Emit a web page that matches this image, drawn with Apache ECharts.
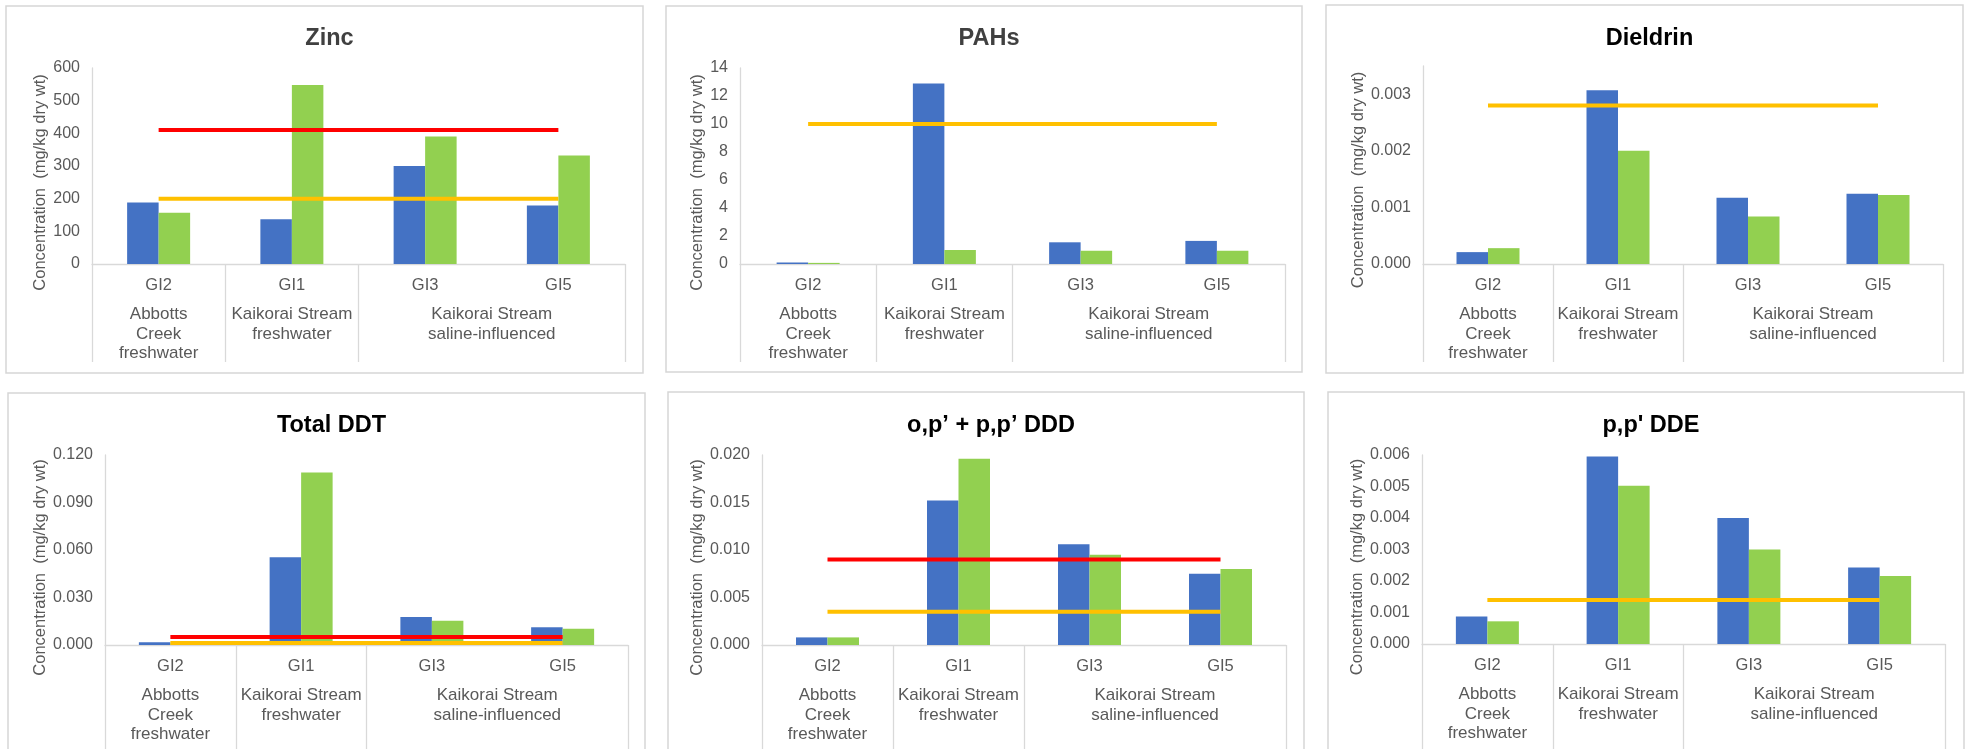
<!DOCTYPE html>
<html>
<head>
<meta charset="utf-8">
<script src="https://cdn.jsdelivr.net/npm/echarts@6/dist/echarts.min.js"></script>
<style>
  html, body { margin: 0; padding: 0; background: #ffffff; }
  #chart { width: 1966px; height: 749px; }
</style>
</head>
<body>
<div id="chart"></div>
<script>
// Sites and their stream groupings
const categories = ['GI2', 'GI1', 'GI3', 'GI5'];
const groupNames = ['Abbotts\nCreek\nfreshwater', 'Kaikorai Stream\nfreshwater', 'Kaikorai Stream\nsaline-influenced'];
const groupCentres = [0.5, 1.5, 3];
const groupEdges = [0, 1, 2, 4];

// Sediment concentrations (mg/kg dry wt), two sampling rounds per site
const zincA = [188, 137, 300, 179];
const zincB = [157, 548, 390, 332];
const zincHigh = [410, 410, 410, 410];
const zincLow = [200, 200, 200, 200];

const pahA = [0.10, 12.9, 1.55, 1.65];
const pahB = [0.08, 1.00, 0.95, 0.95];
const pahLow = [10, 10, 10, 10];

const dieldrinA = [0.00021, 0.00307, 0.00117, 0.00124];
const dieldrinB = [0.00028, 0.00200, 0.00084, 0.00122];
const dieldrinLow = [0.0028, 0.0028, 0.0028, 0.0028];

const ddtA = [0.0017, 0.0554, 0.0177, 0.0112];
const ddtB = [0.0010, 0.1090, 0.0153, 0.0103];
const ddtHigh = [0.005, 0.005, 0.005, 0.005];
const ddtLow = [0.0012, 0.0012, 0.0012, 0.0012];

const dddA = [0.0008, 0.0152, 0.0106, 0.0075];
const dddB = [0.0008, 0.0196, 0.0095, 0.0080];
const dddHigh = [0.009, 0.009, 0.009, 0.009];
const dddLow = [0.0035, 0.0035, 0.0035, 0.0035];

const ddeA = [0.00087, 0.00595, 0.00400, 0.00243];
const ddeB = [0.00072, 0.00502, 0.00300, 0.00216];
const ddeLow = [0.0014, 0.0014, 0.0014, 0.0014];

// Axis scales
const yMax = [600, 14, 0.0035, 0.12, 0.02, 0.006];
const yStep = [100, 2, 0.001, 0.03, 0.005, 0.001];
const yDecimals = [0, 0, 3, 3, 3, 3];

const titles = ['Zinc', 'PAHs', 'Dieldrin', 'Total DDT', 'o,p\u2019 + p,p\u2019 DDD', "p,p' DDE"];

const BLUE = '#4472C4', GREEN = '#92D050', RED = '#FF0000', ORANGE = '#FFC000';
const TEXT = '#595959', RULE = '#D9D9D9';
const FONT = '"Liberation Sans", Arial, sans-serif';

const panelData = [
  { a: zincA, b: zincB, guides: [[zincLow, ORANGE], [zincHigh, RED]], titleColor: '#404040' },
  { a: pahA, b: pahB, guides: [[pahLow, ORANGE]], titleColor: '#404040' },
  { a: dieldrinA, b: dieldrinB, guides: [[dieldrinLow, ORANGE]], titleColor: '#000000' },
  { a: ddtA, b: ddtB, guides: [[ddtLow, ORANGE], [ddtHigh, RED]], titleColor: '#000000' },
  { a: dddA, b: dddB, guides: [[dddLow, ORANGE], [dddHigh, RED]], titleColor: '#000000' },
  { a: ddeA, b: ddeB, guides: [[ddeLow, ORANGE]], titleColor: '#000000' }
];

// Page layout: panel frames, plot areas and title placement
const layouts = [
  { box: [6, 6, 637, 367],    grid: { left: 92,   top: 68,  width: 533, height: 196 }, nameGap: 41, shift: 33, titleX: 324.5, titleY: 21,  depth: 98 },
  { box: [666, 6, 636, 366],  grid: { left: 740,  top: 68,  width: 545, height: 196 }, nameGap: 33, shift: 33, titleX: 984,   titleY: 21,  depth: 98 },
  { box: [1326, 5, 637, 368], grid: { left: 1423, top: 66,  width: 520, height: 198 }, nameGap: 55, shift: 30, titleX: 1644.5, titleY: 21, depth: 98 },
  { box: [8, 393, 637, 380],  grid: { left: 105,  top: 455, width: 523, height: 190 }, nameGap: 53, shift: 35, titleX: 326.5, titleY: 408, depth: 120 },
  { box: [668, 392, 636, 380],grid: { left: 762,  top: 455, width: 524, height: 190 }, nameGap: 53, shift: 35, titleX: 986,   titleY: 408, depth: 120 },
  { box: [1328, 392, 636, 380],grid:{ left: 1422, top: 455, width: 523, height: 189 }, nameGap: 53, shift: 35, titleX: 1646,  titleY: 408, depth: 120 }
];

const option = {
  backgroundColor: '#ffffff',
  animation: false,
  title: [], grid: [], xAxis: [], yAxis: [], series: [],
  graphic: []
};

layouts.forEach(function (L, i) {
  const P = panelData[i];
  option.graphic.push({
    type: 'rect', silent: true, z: -10,
    shape: { x: L.box[0], y: L.box[1], width: L.box[2], height: L.box[3] },
    style: { fill: 'none', stroke: '#D6D6D6', lineWidth: 1.5 }
  });
  option.title.push({
    text: titles[i], left: L.titleX, top: L.titleY, textAlign: 'center',
    textStyle: { fontFamily: FONT, fontWeight: 'bold', fontSize: 23.5, lineHeight: 26, color: P.titleColor }
  });
  option.grid.push(Object.assign({ containLabel: false }, L.grid));

  // site labels along the baseline
  option.xAxis.push({
    type: 'category', gridIndex: i, data: categories, position: 'bottom',
    axisLine: { show: true, lineStyle: { color: RULE, width: 1.3 } },
    axisTick: { show: false },
    axisLabel: { color: TEXT, fontFamily: FONT, fontSize: 16.5, lineHeight: 18, margin: 12 },
    splitLine: { show: false }
  });
  // stream grouping row beneath the site labels
  option.xAxis.push({
    type: 'value', gridIndex: i, min: 0, max: 4, position: 'bottom',
    axisLine: { show: false },
    axisTick: { show: true, customValues: groupEdges, length: L.depth, lineStyle: { color: RULE, width: 1.3 } },
    axisLabel: {
      show: true, customValues: groupCentres, margin: 41,
      color: TEXT, fontFamily: FONT, fontSize: 17, lineHeight: 19.5, align: 'center',
      formatter: function (v) { return groupNames[groupCentres.indexOf(v)] || ''; }
    },
    splitLine: { show: false }
  });

  const step = yStep[i], dec = yDecimals[i];
  option.yAxis.push({
    type: 'value', gridIndex: i, min: 0, max: yMax[i], interval: step,
    name: 'Concentration  (mg/kg dry wt)', nameLocation: 'middle', nameGap: L.nameGap,
    nameTextStyle: { color: TEXT, fontFamily: FONT, fontSize: 16.5, padding: [0, L.shift, 0, 0] },
    axisLine: { show: true, lineStyle: { color: RULE, width: 1.3 } },
    axisTick: { show: false },
    splitLine: { show: false },
    axisLabel: {
      color: TEXT, fontFamily: FONT, fontSize: 16, margin: 12,
      formatter: function (v) {
        const k = v / step;
        return Math.abs(k - Math.round(k)) < 1e-6 ? v.toFixed(dec) : '';
      }
    }
  });

  option.series.push({
    type: 'bar', name: 'Round 1', xAxisIndex: i * 2, yAxisIndex: i, data: P.a,
    barWidth: 31.5, barGap: '0%', itemStyle: { color: BLUE }, z: 2
  });
  option.series.push({
    type: 'bar', name: 'Round 2', xAxisIndex: i * 2, yAxisIndex: i, data: P.b,
    barWidth: 31.5, barGap: '0%', itemStyle: { color: GREEN }, z: 2
  });
  P.guides.forEach(function (g) {
    option.series.push({
      type: 'line', xAxisIndex: i * 2, yAxisIndex: i, data: g[0],
      symbol: 'none', lineStyle: { color: g[1], width: 4 }, itemStyle: { color: g[1] }, z: 3
    });
  });
});

const chart = echarts.init(document.getElementById('chart'), null, { renderer: 'canvas' });
chart.setOption(option);
</script>
</body>
</html>
